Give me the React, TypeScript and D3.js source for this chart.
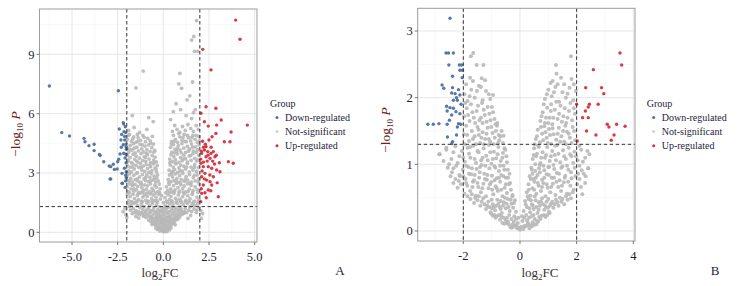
import React from "react";
import * as d3 from "d3";

type P = [number, number];

// ---------- DATA ----------
const groups = ["Down-regulated", "Not-significant", "Up-regulated"];
const fcCutoffA = [-2, 2];
const fcCutoffB = [-2, 2];
const pCutoff = 1.3;

const xTicksA = [-5, -2.5, 0, 2.5, 5];
const xMinorA = [-6.25, -3.75, -1.25, 1.25, 3.75];
const yTicksA = [0, 3, 6, 9];
const yMinorA = [1.5, 4.5, 7.5, 10.5];
const xTicksB = [-2, 0, 2, 4];
const xMinorB = [-3, -1, 1, 3];
const yTicksB = [0, 1, 2, 3];
const yMinorB = [0.5, 1.5, 2.5];

const greyA: P[] = [
  [0.02,0.03],[-0.05,0.08],[0.08,0.05],[-0.12,0.12],[0.15,0.1],[-0.2,0.18],[0.22,0.15],[-0.28,0.22],[0.3,0.25],[-0.35,0.3],[0.38,0.28],[-0.42,0.35],[0.45,0.4],[-0.5,0.42],[0.52,0.45],[-0.58,0.48],[0.6,0.46],[-0.08,0.2],[0.1,0.22],[-0.15,0.3],[0.18,0.33],[-0.25,0.4],[0.27,0.42],[0.0,0.15],[-0.03,0.28],[0.05,0.35],[-0.1,0.45],[0.12,0.48],[-0.32,0.14],[0.34,0.12],[-0.18,0.06],[0.2,0.04],[-0.4,0.2],[0.42,0.22],[-0.62,0.4],[0.65,0.38],[-0.22,0.48],[0.24,0.3],[0.07,0.12],[-0.45,0.46],
  [-1.15,0.95],[-1.05,0.85],[-0.95,0.75],[-0.88,0.9],[-0.8,0.62],[-0.75,0.98],[-0.7,0.55],[-0.65,0.8],[-0.6,0.68],[-0.55,0.92],[-0.5,0.58],[-0.45,0.72],[-0.4,0.88],[-0.35,0.6],[-0.3,0.78],[-0.25,0.95],[-0.2,0.65],[-0.15,0.85],[-0.1,0.55],[-0.05,0.7],[0.0,0.9],[0.05,0.6],[0.1,0.8],[0.15,0.97],[0.2,0.58],[0.25,0.75],[0.3,0.9],[0.35,0.65],[0.4,0.82],[0.45,0.55],[0.5,0.95],[0.55,0.7],[0.6,0.85],[0.65,0.6],[0.7,0.92],[0.75,0.75],[0.8,0.66],[0.85,0.88],[0.9,0.78],[0.95,0.98],[1.02,0.9],[1.1,0.96],[1.18,0.99],[-1.2,0.99],[-0.98,0.97],
  [-1.92,1.45],[-1.85,1.3],[-1.75,1.4],[-1.65,1.2],[-1.58,1.48],[-1.5,1.1],[-1.42,1.35],[-1.35,1.05],[-1.28,1.25],[-1.2,1.42],[-1.12,1.15],[-1.05,1.3],[-0.98,1.05],[-0.9,1.48],[-0.82,1.2],[-0.75,1.35],[-0.68,1.1],[-0.6,1.45],[-0.52,1.25],[-0.45,1.05],[-0.38,1.38],[-0.3,1.15],[-0.22,1.3],[-0.14,1.05],[-0.06,1.2],[0.04,1.1],[0.12,1.35],[0.2,1.02],[0.28,1.28],[0.36,1.45],[0.44,1.12],[0.52,1.38],[0.6,1.05],[0.68,1.25],[0.76,1.47],[0.84,1.15],[0.92,1.32],[1.0,1.08],[1.1,1.4],[1.2,1.2],[1.32,1.46],[1.45,1.28],[1.58,1.42],[1.72,1.35],[1.88,1.44],
  [-1.97,1.95],[-1.9,1.6],[-1.82,1.8],[-1.74,1.55],[-1.66,1.92],[-1.58,1.7],[-1.5,1.52],[-1.43,1.85],[-1.36,1.65],[-1.28,1.98],[-1.2,1.58],[-1.12,1.78],[-1.04,1.9],[-0.96,1.62],[-0.88,1.82],[-0.8,1.55],[-0.72,1.95],[-0.64,1.7],[-0.56,1.88],[-0.48,1.6],[-0.4,1.78],[-0.32,1.52],[-0.24,1.92],[-0.16,1.68],[-0.1,1.85],[0.1,1.75],[0.18,1.58],[0.26,1.9],[0.34,1.65],[0.42,1.82],[0.5,1.55],[0.58,1.97],[0.66,1.72],[0.74,1.6],[0.82,1.88],[0.9,1.68],[0.98,1.52],[1.06,1.8],[1.14,1.95],[1.24,1.62],[1.34,1.85],[1.46,1.7],[1.58,1.92],[1.7,1.58],[1.84,1.78],[1.96,1.65],
  [-1.98,2.3],[-1.92,2.05],[-1.85,2.45],[-1.77,2.2],[-1.7,2.38],[-1.62,2.08],[-1.55,2.42],[-1.47,2.15],[-1.4,2.32],[-1.32,2.02],[-1.25,2.48],[-1.17,2.25],[-1.1,2.1],[-1.02,2.4],[-0.94,2.18],[-0.86,2.35],[-0.78,2.05],[-0.7,2.45],[-0.62,2.22],[-0.54,2.12],[-0.46,2.38],[-0.38,2.28],[-0.3,2.06],[-0.22,2.44],[-0.17,2.2],[0.17,2.3],[0.24,2.1],[0.32,2.42],[0.4,2.2],[0.48,2.05],[0.56,2.36],[0.64,2.15],[0.72,2.48],[0.8,2.26],[0.88,2.08],[0.96,2.4],[1.05,2.2],[1.14,2.34],[1.23,2.04],[1.32,2.46],[1.42,2.18],[1.52,2.38],[1.63,2.1],[1.74,2.3],[1.86,2.16],[1.97,2.44],
  [-1.99,2.85],[-1.93,2.6],[-1.86,2.95],[-1.78,2.72],[-1.7,2.55],[-1.62,2.88],[-1.54,2.66],[-1.46,2.98],[-1.38,2.58],[-1.3,2.8],[-1.22,2.52],[-1.14,2.92],[-1.06,2.7],[-0.98,2.62],[-0.9,2.9],[-0.82,2.56],[-0.74,2.78],[-0.66,2.96],[-0.58,2.64],[-0.5,2.84],[-0.42,2.54],[-0.35,2.75],[-0.28,2.6],[0.27,2.68],[0.34,2.9],[0.42,2.56],[0.5,2.8],[0.58,2.62],[0.66,2.95],[0.74,2.72],[0.82,2.52],[0.9,2.86],[0.98,2.66],[1.07,2.98],[1.16,2.58],[1.25,2.82],[1.34,2.64],[1.44,2.92],[1.54,2.54],[1.64,2.76],[1.75,2.6],[1.85,2.9],[1.95,2.7],
  [-1.98,3.4],[-1.91,3.1],[-1.83,3.3],[-1.75,3.05],[-1.67,3.45],[-1.59,3.2],[-1.5,3.38],[-1.42,3.02],[-1.34,3.28],[-1.26,3.48],[-1.18,3.15],[-1.1,3.35],[-1.02,3.08],[-0.94,3.42],[-0.86,3.22],[-0.78,3.04],[-0.7,3.32],[-0.62,3.12],[-0.54,3.46],[-0.46,3.25],[-0.38,3.06],[-0.33,3.38],[0.32,3.14],[0.38,3.4],[0.46,3.05],[0.54,3.3],[0.62,3.18],[0.7,3.46],[0.78,3.02],[0.86,3.26],[0.95,3.4],[1.04,3.1],[1.13,3.34],[1.22,3.2],[1.32,3.48],[1.42,3.06],[1.52,3.3],[1.62,3.15],[1.72,3.42],[1.82,3.08],[1.93,3.28],
  [-1.97,3.9],[-1.9,3.6],[-1.82,3.78],[-1.73,3.52],[-1.65,3.95],[-1.56,3.68],[-1.48,3.85],[-1.39,3.55],[-1.3,3.75],[-1.22,3.98],[-1.13,3.62],[-1.04,3.82],[-0.96,3.58],[-0.87,3.92],[-0.78,3.7],[-0.7,3.52],[-0.61,3.88],[-0.53,3.65],[-0.45,3.8],[-0.38,3.56],[0.35,3.7],[0.42,3.92],[0.5,3.58],[0.58,3.82],[0.67,3.66],[0.76,3.96],[0.85,3.54],[0.94,3.78],[1.03,3.62],[1.12,3.9],[1.22,3.72],[1.32,3.55],[1.42,3.86],[1.52,3.64],[1.62,3.98],[1.72,3.74],[1.83,3.6],[1.94,3.88],
  [-1.98,4.25],[-1.9,4.05],[-1.81,4.4],[-1.72,4.15],[-1.63,4.48],[-1.54,4.02],[-1.45,4.3],[-1.36,4.12],[-1.27,4.45],[-1.18,4.22],[-1.09,4.06],[-1.0,4.36],[-0.9,4.18],[-0.81,4.42],[-0.72,4.08],[-0.63,4.28],[-0.54,4.46],[-0.46,4.14],[0.4,4.3],[0.47,4.05],[0.55,4.44],[0.64,4.2],[0.73,4.1],[0.82,4.38],[0.92,4.16],[1.02,4.48],[1.12,4.26],[1.22,4.04],[1.32,4.34],[1.43,4.2],[1.54,4.46],[1.65,4.1],[1.76,4.32],[1.87,4.18],[1.96,4.42],
  [-1.96,4.7],[-1.85,4.95],[-1.74,4.6],[-1.62,4.82],[-1.5,4.55],[-1.38,4.78],[-1.25,4.65],[-1.12,4.9],[-0.98,4.58],[-0.85,4.75],[-0.72,4.62],[-0.6,4.85],[0.45,4.6],[0.55,4.9],[0.66,4.7],[0.78,4.55],[0.9,4.82],[1.02,4.66],[1.14,4.95],[1.26,4.58],[1.38,4.78],[1.5,4.62],[1.62,4.9],[1.74,4.7],[1.86,4.55],[1.95,4.85],
  [-1.9,5.15],[-1.6,5.3],[-1.3,5.05],[-0.9,5.2],[0.5,5.1],[0.62,5.4],[0.75,5.2],[0.9,5.05],[1.05,5.35],[1.2,5.15],[1.35,5.45],[1.5,5.25],[1.65,5.1],[1.8,5.4],[1.92,5.2],
  [-0.8,5.8],[-0.55,5.6],[-1.1,8.15],[-1.5,7.3],[-1.7,5.9],[0.55,6.1],[0.7,6.5],[0.95,6.2],[1.3,6.7],[1.45,6.9],[1.0,7.28],[0.85,7.5],[0.91,8.04],[1.6,7.6],[1.75,6.2],[1.71,9.15],[1.89,9.15],[1.55,9.72],[1.67,9.9],[1.82,10.7],[1.25,5.9],[1.55,5.75],[0.4,5.7],[1.65,6.05],
  [-2.05,0.9],[-2.1,1.2],[2.05,1.1],[2.15,0.95],[-2.2,1.05],[2.08,0.7],[-2.0,0.75],[-1.5,0.8],[-1.7,0.95],[1.5,0.85],[1.8,1.0],[1.35,0.7],[-1.35,0.72],
  [0.03,0.4],[-0.04,0.5],[0.14,0.6],[-0.16,0.58],[0.28,0.55],[-0.3,0.62],[0.38,0.5],[-0.38,0.52],[0.48,0.68],[-0.48,0.7],[0.58,0.62],[-0.58,0.62],[0.68,0.72],[-0.68,0.74],[0.78,0.82],[-0.78,0.8],[0.16,0.72],[-0.12,0.76],[0.02,0.66],[-0.24,0.82],[0.32,0.78],[0.4,0.62],[-0.36,0.74],
  [-1.6,1.0],[-1.45,0.95],[-1.3,0.9],[-1.1,0.82],[-0.92,1.12],[-0.72,1.02],[-0.55,1.12],[-0.35,1.0],[-0.18,1.1],[-0.02,1.02],[0.08,1.25],[0.18,1.18],[0.33,1.05],[0.48,1.25],[0.64,1.15],[0.8,1.05],[0.96,1.2],[1.15,1.05],[1.28,1.0],[1.4,1.12],[1.55,1.05],[1.68,1.18],[1.82,1.12],[1.95,1.25],[-1.8,1.12],[-1.68,1.5],[-1.42,1.58],[-1.15,1.55],[-0.85,1.58],[-0.6,1.56],[-0.35,1.6],[0.0,1.5],[0.22,1.52],[0.45,1.6],[0.7,1.5],[0.95,1.6],[1.2,1.55],[1.42,1.56],[1.65,1.52],[1.9,1.55],
  [-1.86,2.0],[-1.6,2.2],[-1.38,1.95],[-1.15,2.02],[-0.92,1.98],[-0.68,2.02],[-0.44,1.98],[-0.2,2.0],[0.14,2.0],[0.36,2.02],[0.6,2.06],[0.86,2.0],[1.1,2.02],[1.36,2.06],[1.6,2.0],[1.9,2.02],[-1.88,2.62],[-1.66,2.4],[-1.42,2.7],[-1.2,2.4],[-0.96,2.78],[-0.72,2.6],[-0.48,2.7],[-0.32,2.9],[0.3,2.52],[0.46,2.96],[0.7,2.58],[0.94,2.5],[1.2,2.68],[1.48,2.48],[1.7,2.88],[1.92,2.56],
  [-1.94,3.65],[-1.7,3.3],[-1.46,3.6],[-1.22,3.3],[-0.98,3.78],[-0.74,3.4],[-0.5,3.55],[-0.4,3.2],[0.36,3.52],[0.52,3.08],[0.66,3.5],[0.9,3.1],[1.08,3.7],[1.28,3.3],[1.5,3.88],[1.7,3.28],[1.9,3.66],[-1.85,4.2],[-1.6,4.25],[-1.4,4.6],[-1.15,4.42],[-0.92,4.0],[-0.68,4.5],[-0.52,4.05],[0.44,4.48],[0.6,4.02],[0.78,4.25],[0.98,4.02],[1.18,4.6],[1.38,4.1],[1.6,4.3],[1.82,4.05],[1.98,4.62],[-1.92,4.9],[-1.68,4.72],[-1.42,4.95],[-1.05,4.8],[0.62,4.6],[0.84,5.0],[1.08,4.8],[1.32,4.9],[1.56,4.8],[1.8,4.9],
];

const downA: P[] = [
  [-6.24,7.4],[-5.56,5.04],[-5.14,4.87],[-4.34,4.75],[-4.29,4.58],[-4.07,4.38],[-3.79,4.45],[-3.79,4.13],[-3.5,3.94],[-3.46,3.88],[-3.26,3.57],[-2.96,3.35],[-2.88,3.32],[-2.74,3.44],[-2.68,3.18],[-2.53,3.2],[-2.5,3.57],[-2.44,3.69],[-2.37,3.96],[-2.32,4.67],[-2.41,5.22],[-2.19,5.54],[-2.17,5.47],[-2.08,5.34],[-2.15,5.09],[-2.06,5.04],[-2.28,4.95],[-2.11,4.67],[-2.04,4.46],[-2.19,4.43],[-2.03,4.33],[-2.02,4.2],[-2.17,4.0],[-2.09,3.76],[-2.04,3.52],[-2.26,2.98],[-2.13,3.24],[-2.03,3.06],[-2.06,2.89],[-2.03,2.77],[-2.88,2.7],[-2.26,2.48],[-2.09,2.27],[-2.46,7.16],[-2.92,2.69],[-2.24,2.47],[-2.12,4.85],[-2.05,3.95],[-2.3,4.3],[-2.07,2.6],
];

const upA: P[] = [
  [3.96,10.73],[4.2,9.76],[2.16,9.25],[2.61,8.21],[2.34,6.35],[2.88,6.27],[2.06,6.02],[3.17,5.68],[2.25,5.59],[2.92,5.42],[4.6,5.42],[2.46,5.37],[3.71,5.07],[2.88,5.0],[2.67,4.83],[2.5,4.67],[3.34,4.58],[3.65,4.58],[2.34,4.33],[2.25,4.16],[2.43,4.08],[2.61,3.99],[2.74,4.08],[2.1,3.99],[2.83,3.82],[2.34,3.82],[2.56,3.74],[3.07,3.52],[3.56,3.57],[3.83,3.49],[2.06,3.49],[2.19,3.32],[2.46,3.32],[2.65,3.24],[2.92,3.15],[2.28,2.98],[3.1,3.06],[2.1,2.81],[2.37,2.64],[2.56,2.56],[2.74,2.81],[2.19,2.39],[2.65,2.39],[2.46,2.14],[2.28,2.0],[3.01,1.8],[2.1,1.97],[2.2,4.3],[2.3,4.45],[2.15,4.6],[2.4,3.6],[2.7,3.6],[2.9,3.9],[2.05,3.7],[2.12,3.1],[2.55,2.9],[2.8,3.45],[2.25,2.7],[2.08,2.2],[2.35,1.75],[2.6,2.1],[2.05,1.55],[2.95,2.5],[2.2,3.55],[2.45,3.9],[2.62,4.3],[2.08,4.1],
];

const greyB: P[] = [
  [0.0,0.02],[-0.04,0.05],[0.05,0.06],[-0.1,0.04],[0.12,0.03],[-0.18,0.08],[0.2,0.07],[-0.26,0.1],[0.28,0.12],[-0.34,0.06],[0.36,0.09],[-0.42,0.14],[0.45,0.13],[-0.5,0.16],[0.52,0.18],[-0.58,0.2],[0.6,0.15],[-0.66,0.22],[0.68,0.21],[-0.74,0.24],[0.76,0.23],[-0.82,0.22],[0.85,0.24],[-0.9,0.24],[-0.08,0.12],[0.09,0.15],[-0.14,0.18],[0.15,0.2],[-0.2,0.22],[0.22,0.24],[-0.3,0.18],[0.32,0.2],[-0.38,0.24],[0.4,0.22],[-0.46,0.2],[0.48,0.24],[-0.06,0.2],[0.07,0.22],[-0.22,0.14],[0.25,0.16],[-0.55,0.11],[0.58,0.1],
  [-1.75,0.48],[-1.62,0.42],[-1.5,0.46],[-1.4,0.38],[-1.3,0.49],[-1.2,0.33],[-1.12,0.44],[-1.04,0.28],[-0.96,0.4],[-0.88,0.31],[-0.8,0.47],[-0.72,0.36],[-0.64,0.27],[-0.57,0.43],[-0.5,0.34],[-0.43,0.48],[-0.36,0.3],[-0.3,0.41],[-0.24,0.35],[-0.18,0.46],[-0.14,0.29],[0.13,0.3],[0.18,0.45],[0.24,0.36],[0.3,0.48],[0.36,0.28],[0.42,0.4],[0.48,0.33],[0.55,0.46],[0.62,0.27],[0.7,0.38],[0.78,0.49],[0.86,0.32],[0.94,0.44],[1.02,0.29],[1.1,0.41],[1.18,0.35],[1.27,0.47],[1.36,0.38],[1.46,0.44],[1.56,0.4],[1.68,0.47],[1.8,0.49],[-0.68,0.45],[0.66,0.43],[-1.0,0.47],[1.0,0.48],
  [-2.35,0.72],[-2.2,0.65],[-2.08,0.7],[-1.96,0.56],[-1.86,0.68],[-1.76,0.6],[-1.66,0.74],[-1.56,0.53],[-1.47,0.66],[-1.38,0.58],[-1.29,0.71],[-1.2,0.52],[-1.11,0.64],[-1.02,0.73],[-0.94,0.55],[-0.86,0.67],[-0.78,0.6],[-0.7,0.74],[-0.62,0.52],[-0.54,0.65],[-0.46,0.57],[-0.39,0.7],[-0.32,0.62],[-0.26,0.54],[0.24,0.58],[0.3,0.7],[0.37,0.53],[0.44,0.64],[0.51,0.74],[0.58,0.56],[0.66,0.68],[0.74,0.6],[0.82,0.72],[0.9,0.52],[0.98,0.65],[1.07,0.58],[1.16,0.71],[1.25,0.54],[1.35,0.66],[1.45,0.6],[1.55,0.73],[1.66,0.56],[1.78,0.68],[1.9,0.62],[2.02,0.7],[2.15,0.66],[2.3,0.72],
  [-2.55,0.95],[-2.4,0.88],[-2.25,0.98],[-2.12,0.82],[-2.02,0.92],[-1.92,0.78],[-1.82,0.96],[-1.72,0.85],[-1.62,0.76],[-1.53,0.93],[-1.44,0.8],[-1.35,0.99],[-1.26,0.86],[-1.17,0.77],[-1.08,0.94],[-0.99,0.83],[-0.9,0.97],[-0.82,0.79],[-0.74,0.9],[-0.66,0.84],[-0.58,0.98],[-0.5,0.8],[-0.43,0.92],[-0.37,0.86],[0.34,0.82],[0.4,0.95],[0.47,0.78],[0.54,0.9],[0.62,0.84],[0.7,0.99],[0.78,0.77],[0.86,0.91],[0.94,0.85],[1.03,0.96],[1.12,0.8],[1.21,0.93],[1.3,0.87],[1.4,0.76],[1.5,0.97],[1.6,0.83],[1.71,0.92],[1.82,0.79],[1.93,0.95],[2.05,0.86],[2.18,0.91],[2.32,0.82],[2.41,0.94],
  [-2.85,1.15],[-2.6,1.22],[-2.42,1.08],[-2.28,1.27],[-2.14,1.12],[-2.05,1.2],[-1.95,1.04],[-1.85,1.25],[-1.75,1.1],[-1.65,1.28],[-1.55,1.02],[-1.46,1.18],[-1.37,1.06],[-1.28,1.24],[-1.19,1.13],[-1.1,1.29],[-1.01,1.01],[-0.92,1.19],[-0.84,1.09],[-0.76,1.26],[-0.68,1.05],[-0.6,1.17],[-0.52,1.22],[-0.46,1.03],[0.45,1.08],[0.5,1.24],[0.57,1.12],[0.64,1.28],[0.72,1.02],[0.8,1.18],[0.88,1.1],[0.96,1.26],[1.05,1.05],[1.14,1.2],[1.23,1.14],[1.32,1.29],[1.42,1.03],[1.52,1.21],[1.62,1.08],[1.72,1.25],[1.82,1.12],[1.92,1.19],[2.04,1.06],[2.16,1.22],[2.3,1.1],[2.45,1.15],
  [-1.98,1.45],[-1.9,1.58],[-1.8,1.35],[-1.7,1.5],[-1.6,1.42],[-1.5,1.56],[-1.41,1.32],[-1.32,1.48],[-1.23,1.38],[-1.14,1.55],[-1.05,1.34],[-0.97,1.47],[-0.89,1.4],[-0.81,1.58],[-0.73,1.36],[-0.65,1.5],[-0.58,1.43],[0.56,1.38],[0.63,1.52],[0.7,1.33],[0.78,1.46],[0.86,1.57],[0.94,1.4],[1.02,1.53],[1.1,1.31],[1.19,1.45],[1.28,1.37],[1.37,1.55],[1.46,1.42],[1.56,1.34],[1.66,1.49],[1.76,1.4],[1.86,1.56],[1.95,1.36],[-1.45,1.44],[1.6,1.58],[-0.75,1.44],
  [-1.97,1.72],[-1.88,1.84],[-1.78,1.65],[-1.68,1.78],[-1.58,1.62],[-1.48,1.88],[-1.38,1.7],[-1.28,1.82],[-1.18,1.64],[-1.08,1.76],[-0.99,1.86],[-0.9,1.68],[-0.8,1.62],[0.72,1.65],[0.8,1.78],[0.88,1.62],[0.96,1.85],[1.05,1.7],[1.14,1.6],[1.23,1.82],[1.33,1.68],[1.43,1.88],[1.53,1.72],[1.63,1.62],[1.73,1.8],[1.84,1.66],[1.94,1.76],[-1.32,1.62],[1.1,1.9],
  [-1.96,2.05],[-1.85,1.95],[-1.72,2.12],[-1.6,2.0],[-1.45,2.18],[-1.32,1.96],[-1.2,2.1],[-1.05,1.98],[-0.95,2.04],[0.88,1.98],[1.0,2.12],[1.12,2.02],[1.25,2.16],[1.38,1.94],[1.5,2.08],[1.62,2.0],[1.75,2.15],[1.88,1.96],[1.97,2.1],
  [-1.65,2.67],[-1.73,2.62],[-1.53,2.49],[-1.29,2.49],[-1.76,2.3],[-1.35,2.29],[-1.23,2.26],[1.8,2.62],[1.27,2.49],[1.29,2.36],[1.15,2.25],[1.45,2.3],[1.9,2.2],[-2.83,1.15],[-2.35,0.94],[-2.14,0.84],[2.41,0.94],[2.2,0.55],[-2.6,1.25],[2.1,1.28],
  [-0.3,0.05],[0.33,0.04],[-0.62,0.12],[0.64,0.14],[-0.7,0.17],[0.72,0.18],[-0.86,0.2],[0.9,0.21],[-0.95,0.23],[0.97,0.24],[-1.02,0.26],[1.05,0.27],[-0.12,0.09],[0.16,0.08],[-0.24,0.06],[0.27,0.09],[-0.4,0.1],[0.42,0.07],[-0.48,0.12],[0.5,0.09],
  [-1.85,0.52],[-1.7,0.55],[-1.58,0.5],[-1.45,0.52],[-1.35,0.44],[-1.25,0.4],[-1.16,0.38],[-1.08,0.36],[-0.99,0.34],[-0.92,0.36],[-0.84,0.38],[-0.76,0.41],[-0.68,0.33],[-0.6,0.38],[-0.53,0.5],[-0.47,0.41],[-0.4,0.36],[-0.33,0.47],[-0.27,0.52],[-0.21,0.42],[0.2,0.4],[0.27,0.52],[0.33,0.34],[0.39,0.46],[0.45,0.38],[0.52,0.52],[0.58,0.36],[0.66,0.32],[0.74,0.44],[0.82,0.4],[0.9,0.37],[0.98,0.35],[1.06,0.38],[1.14,0.44],[1.22,0.4],[1.32,0.43],[1.41,0.5],[1.5,0.48],[1.62,0.52],[1.74,0.55],[1.86,0.58],
  [-2.45,0.82],[-2.28,0.78],[-2.16,0.75],[-2.0,0.82],[-1.9,0.72],[-1.8,0.86],[-1.68,0.66],[-1.6,0.84],[-1.5,0.72],[-1.42,0.88],[-1.33,0.64],[-1.24,0.78],[-1.15,0.84],[-1.06,0.7],[-0.98,0.62],[-0.9,0.76],[-0.82,0.64],[-0.74,0.8],[-0.66,0.62],[-0.58,0.82],[-0.5,0.7],[-0.42,0.8],[-0.35,0.72],[0.31,0.62],[0.38,0.78],[0.44,0.86],[0.5,0.62],[0.56,0.8],[0.63,0.72],[0.7,0.88],[0.78,0.66],[0.86,0.8],[0.94,0.7],[1.02,0.84],[1.1,0.66],[1.2,0.8],[1.29,0.74],[1.38,0.86],[1.48,0.68],[1.58,0.8],[1.7,0.74],[1.8,0.88],[1.96,0.82],[2.1,0.78],[2.25,0.86],
  [-2.7,1.05],[-2.5,1.0],[-2.35,1.18],[-2.2,1.02],[-2.0,1.1],[-1.9,0.98],[-1.8,1.16],[-1.7,0.94],[-1.6,1.08],[-1.5,1.2],[-1.41,0.96],[-1.32,1.1],[-1.22,0.98],[-1.14,1.06],[-1.05,1.18],[-0.96,1.08],[-0.87,0.95],[-0.79,1.15],[-0.7,0.98],[-0.62,1.1],[-0.55,0.92],[-0.48,1.12],[0.42,0.92],[0.48,1.14],[0.54,1.0],[0.6,1.16],[0.67,0.94],[0.75,1.1],[0.83,0.98],[0.92,1.14],[1.0,0.96],[1.09,1.12],[1.18,0.99],[1.27,1.06],[1.36,1.16],[1.46,0.95],[1.56,1.12],[1.66,0.98],[1.77,1.15],[1.88,1.02],[1.98,1.12],[2.1,0.98],[2.22,1.04],[2.38,1.2],
  [-1.95,1.3],[-1.86,1.44],[-1.76,1.26],[-1.66,1.38],[-1.55,1.3],[-1.46,1.52],[-1.36,1.4],[-1.27,1.3],[-1.18,1.46],[-1.1,1.38],[-1.01,1.56],[-0.93,1.3],[-0.85,1.5],[-0.77,1.32],[-0.69,1.42],[-0.6,1.32],[-0.55,1.24],[0.52,1.3],[0.6,1.42],[0.67,1.26],[0.74,1.56],[0.82,1.36],[0.9,1.48],[0.98,1.32],[1.06,1.44],[1.15,1.54],[1.24,1.28],[1.33,1.46],[1.42,1.34],[1.52,1.5],[1.62,1.3],[1.72,1.46],[1.82,1.32],[1.91,1.5],
  [-1.93,1.92],[-1.83,1.74],[-1.73,1.9],[-1.63,1.7],[-1.53,1.8],[-1.43,1.66],[-1.34,1.92],[-1.24,1.74],[-1.14,1.86],[-1.04,1.66],[-0.95,1.78],[-0.86,1.6],[0.76,1.72],[0.84,1.9],[0.92,1.7],[1.0,1.62],[1.09,1.8],[1.18,1.7],[1.28,1.94],[1.38,1.76],[1.48,1.64],[1.58,1.84],[1.68,1.7],[1.78,1.92],[1.9,1.84],
  [-1.9,2.2],[-1.78,2.02],[-1.66,2.25],[-1.52,2.1],[-1.38,2.16],[-1.1,2.05],[0.95,2.05],[1.08,2.22],[1.2,2.08],[1.33,2.2],[1.56,2.2],[1.68,2.06],[1.82,2.28],
];

const downB: P[] = [
  [-2.47,3.19],[-2.61,2.67],[-2.52,2.67],[-2.35,2.67],[-2.51,2.49],[-2.14,2.49],[-2.06,2.49],[-2.12,2.41],[-2.03,2.41],[-2.38,2.32],[-2.75,2.19],[-2.69,2.14],[-2.38,2.15],[-2.41,2.07],[-2.29,2.06],[-2.17,2.12],[-2.12,2.04],[-2.24,2.0],[-2.35,1.96],[-2.21,1.96],[-2.59,1.87],[-2.47,1.85],[-2.35,1.84],[-2.57,1.8],[-2.26,1.79],[-2.41,1.74],[-2.12,1.76],[-2.49,1.66],[-3.25,1.6],[-3.06,1.6],[-2.86,1.61],[-2.57,1.6],[-2.17,1.61],[-2.09,1.6],[-2.21,1.56],[-2.56,1.41],[-2.24,1.44],[-2.38,1.34],[-2.41,1.31],[-2.04,2.3],[-2.08,1.9],
];

const upB: P[] = [
  [3.53,2.67],[3.59,2.49],[2.59,2.42],[2.32,2.15],[2.88,2.15],[2.96,2.06],[2.0,1.9],[2.45,1.9],[2.41,1.86],[2.76,1.9],[2.31,1.8],[2.21,1.7],[2.41,1.7],[2.35,1.5],[2.02,1.35],[2.68,1.44],[3.08,1.6],[3.14,1.56],[3.41,1.6],[3.71,1.57],[3.32,1.44],[3.22,1.36],
];

// ---------- STYLE ----------
const COL_DOWN = "#4E72A0";
const COL_UP = "#D4303D";
const COL_NS = "#B8B8B8";
const COL_NS_LEG = "#D2D2D2";
const FONT = "Liberation Serif, DejaVu Serif, Times New Roman, serif";
const TICK_COL = "#1d1d3a";

type PanelProps = {
  left: number; right: number; top: number; bottom: number;
  xDomain: [number, number]; yDomain: [number, number];
  xTicks: number[]; xMinor: number[]; yTicks: number[]; yMinor: number[];
  xFmt: (v: number) => string; yFmt: (v: number) => string;
  grey: P[]; down: P[]; up: P[]; fc: number[];
  xTitleX: number; yTitleX: number; yTitleY: number;
  legendX: number; tag: string; tagX: number; greyR: number;
};

function Panel(p: PanelProps) {
  const x = d3.scaleLinear().domain(p.xDomain).range([p.left, p.right]);
  const y = d3.scaleLinear().domain(p.yDomain).range([p.bottom, p.top]);
  return (
    <g>
      <defs>
        <clipPath id={"clip" + p.tag}>
          <rect x={p.left} y={p.top} width={p.right - p.left} height={p.bottom - p.top} />
        </clipPath>
      </defs>
      {p.xMinor.map((v) => (
        <line key={"xm" + v} x1={x(v)} x2={x(v)} y1={p.top} y2={p.bottom} stroke="#f1f1f1" strokeWidth={0.6} />
      ))}
      {p.yMinor.map((v) => (
        <line key={"ym" + v} y1={y(v)} y2={y(v)} x1={p.left} x2={p.right} stroke="#f1f1f1" strokeWidth={0.6} />
      ))}
      {p.xTicks.map((v) => (
        <line key={"xg" + v} x1={x(v)} x2={x(v)} y1={p.top} y2={p.bottom} stroke="#e3e3e3" strokeWidth={0.9} />
      ))}
      {p.yTicks.map((v) => (
        <line key={"yg" + v} y1={y(v)} y2={y(v)} x1={p.left} x2={p.right} stroke="#e3e3e3" strokeWidth={0.9} />
      ))}
      <g clipPath={`url(#clip${p.tag})`}>
        {p.grey.map((d, i) => (
          <circle key={"g" + i} cx={x(d[0])} cy={y(d[1])} r={p.greyR} fill={COL_NS} fillOpacity={0.9} />
        ))}
        {p.down.map((d, i) => (
          <circle key={"d" + i} cx={x(d[0])} cy={y(d[1])} r={1.7} fill={COL_DOWN} fillOpacity={0.95} />
        ))}
        {p.up.map((d, i) => (
          <circle key={"u" + i} cx={x(d[0])} cy={y(d[1])} r={1.7} fill={COL_UP} fillOpacity={0.95} />
        ))}
        {p.fc.map((v) => (
          <line key={"fc" + v} x1={x(v)} x2={x(v)} y1={p.top} y2={p.bottom} stroke="#333" strokeWidth={1} strokeDasharray="3.5,2.5" />
        ))}
        <line x1={p.left} x2={p.right} y1={y(pCutoff)} y2={y(pCutoff)} stroke="#333" strokeWidth={1} strokeDasharray="3.5,2.5" />
      </g>
      <rect x={p.left} y={p.top} width={p.right - p.left} height={p.bottom - p.top} fill="none" stroke="#9c9c9c" strokeWidth={1} />
      {p.xTicks.map((v) => (
        <g key={"xt" + v}>
          <line x1={x(v)} x2={x(v)} y1={p.bottom} y2={p.bottom + 3} stroke="#666" strokeWidth={0.9} />
          <text x={x(v)} y={p.bottom + 19} textAnchor="middle" fontSize={12.5} fill={TICK_COL}>
            {p.xFmt(v)}
          </text>
        </g>
      ))}
      {p.yTicks.map((v) => (
        <g key={"yt" + v}>
          <line x1={p.left - 3} x2={p.left} y1={y(v)} y2={y(v)} stroke="#666" strokeWidth={0.9} />
          <text x={p.left - 5} y={y(v) + 4.3} textAnchor="end" fontSize={12.5} fill={TICK_COL}>
            {p.yFmt(v)}
          </text>
        </g>
      ))}
      <text x={p.xTitleX} y={277} textAnchor="middle" fontSize={13} fill="#3b302c">
        <tspan>log</tspan>
        <tspan dy={3} fontSize={9}>2</tspan>
        <tspan dy={-3}>FC</tspan>
      </text>
      <text transform={`translate(${p.yTitleX},${p.yTitleY}) rotate(-90)`} textAnchor="middle" fontSize={13.5} fill="#6a2318">
        <tspan>−log</tspan>
        <tspan dy={3} fontSize={9}>10</tspan>
        <tspan dy={-3}> </tspan>
        <tspan fontStyle="italic">P</tspan>
      </text>
      <text x={p.legendX} y={106.5} fontSize={10} fill="#1d1d3a">Group</text>
      {groups.map((g, i) => (
        <g key={g}>
          <circle cx={p.legendX + 7} cy={117.5 + i * 14.1} r={1.5} fill={[COL_DOWN, COL_NS_LEG, COL_UP][i]} />
          <text x={p.legendX + 15} y={121 + i * 14.1} fontSize={10} fill="#1d1d3a">{g}</text>
        </g>
      ))}
      <text x={p.tagX} y={275} textAnchor="middle" fontSize={13} fill="#1d1d3a">{p.tag}</text>
    </g>
  );
}

export default function App() {
  return (
    <svg width={738} height={286} style={{ position: "absolute", left: 0, top: 0, background: "#fff", fontFamily: FONT }}>
      <rect width={738} height={286} fill="#fff" />
      <Panel
        left={39.5} right={257} top={9} bottom={242}
        xDomain={[-6.78, 5.13]} yDomain={[-0.49, 11.29]}
        xTicks={xTicksA} xMinor={xMinorA} yTicks={yTicksA} yMinor={yMinorA}
        xFmt={(v) => d3.format(".1f")(v).replace("−", "-")} yFmt={(v) => String(v)}
        grey={greyA} down={downA} up={upA} fc={fcCutoffA}
        xTitleX={160} yTitleX={20} yTitleY={134}
        legendX={270} tag="A" tagX={340} greyR={1.9}
      />
      <Panel
        left={417.7} right={635} top={8.3} bottom={241}
        xDomain={[-3.61, 4.06]} yDomain={[-0.15, 3.34]}
        xTicks={xTicksB} xMinor={xMinorB} yTicks={yTicksB} yMinor={yMinorB}
        xFmt={(v) => String(v).replace("−", "-")} yFmt={(v) => String(v)}
        grey={greyB} down={downB} up={upB} fc={fcCutoffB}
        xTitleX={540} yTitleX={390} yTitleY={130}
        legendX={646.7} tag="B" tagX={715} greyR={2.0}
      />
    </svg>
  );
}
